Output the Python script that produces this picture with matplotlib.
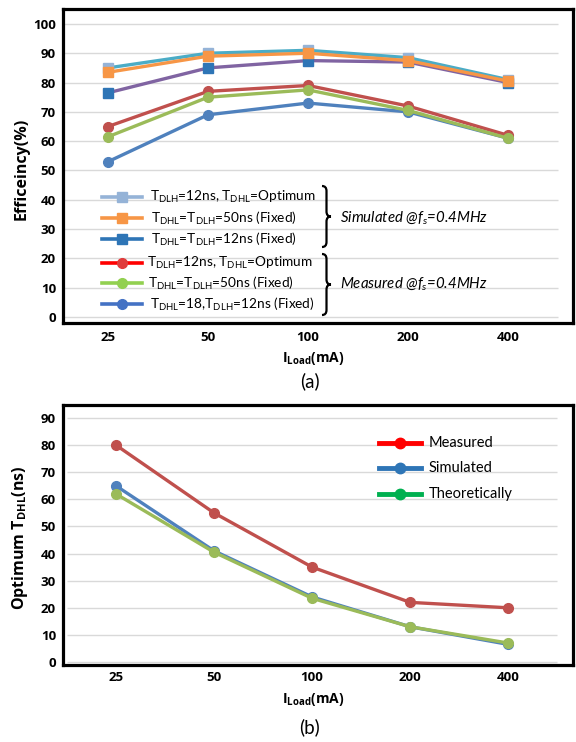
import matplotlib
matplotlib.use("Agg")
import matplotlib.pyplot as plt
from matplotlib.path import Path
from matplotlib.patches import PathPatch

plt.rcParams['font.family'] = ['Lato', 'DejaVu Sans']
plt.rcParams['mathtext.fontset'] = 'custom'
plt.rcParams['mathtext.rm'] = 'Lato'
plt.rcParams['mathtext.it'] = 'Lato:italic'
plt.rcParams['mathtext.bf'] = 'Open Sans:bold'

BOLD = ['Open Sans', 'DejaVu Sans']

# ---------------- data ----------------
loads = ["25", "50", "100", "200", "400"]

# panel (a) efficiency (%)
sim_opt = [85, 90, 91, 88.5, 81]          # TDLH=12ns, TDHL=Optimum (simulated)
sim_50 = [83.5, 89, 90, 87.5, 80.5]       # TDHL=TDLH=50ns (simulated)
sim_12 = [76.5, 85, 87.5, 87, 80]         # TDHL=TDLH=12ns (simulated)
meas_opt = [65, 77, 79, 72, 62]           # TDLH=12ns, TDHL=Optimum (measured)
meas_50 = [61.5, 75, 77.5, 70.5, 61]      # TDHL=TDLH=50ns (measured)
meas_18 = [53, 69, 73, 70, 61]            # TDHL=18, TDLH=12ns (measured)

# panel (b) optimum TDHL (ns)
opt_measured = [80, 55, 35, 22, 20]
opt_simulated = [65, 41, 24, 13, 6.5]
opt_theory = [62, 40.5, 23.5, 13, 7]

W, H = 576, 742
fig = plt.figure(figsize=(W / 100, H / 100), dpi=100)


def px_axes(l, t, r, b):
    return fig.add_axes([l / W, 1 - b / H, (r - l) / W, (b - t) / H])


def style_axes(ax, yticks, xpad):
    for s in ax.spines.values():
        s.set_linewidth(2.3)
        s.set_color('black')
    ax.set_yticks(yticks)
    ax.set_xticks(range(len(loads)))
    ax.set_xticklabels(loads)
    ax.tick_params(length=0, labelsize=9.5)
    ax.tick_params(axis='y', pad=5)
    ax.tick_params(axis='x', pad=xpad)
    for lab in ax.get_xticklabels() + ax.get_yticklabels():
        lab.set_fontweight('bold')
        lab.set_family(BOLD)
    ax.hlines(yticks, -0.5, 4.5, color='#D9D9D9', lw=1.0, zorder=0)


x = list(range(len(loads)))

# ---------------- panel (a) ----------------
axa = px_axes(63, 9, 573, 323)
axa.set_xlim(-0.45, 4.65)
axa.set_ylim(-2.05, 105.1)
style_axes(axa, list(range(0, 101, 10)), 6)

lw = 2.4
axa.plot(x, meas_18, color='#4F81BD', lw=lw, marker='o', ms=7, mfc='#4F81BD', mec='#4F81BD', zorder=3)
axa.plot(x, meas_opt, color='#C0504D', lw=lw, marker='o', ms=7, mfc='#C0504D', mec='#C0504D', zorder=3)
axa.plot(x, meas_50, color='#9BBB59', lw=lw, marker='o', ms=7, mfc='#9BBB59', mec='#9BBB59', zorder=3)
axa.plot(x, sim_12, color='#8064A2', lw=lw, marker='s', ms=7.5, mfc='#2E75B6', mec='#2E75B6', zorder=3)
axa.plot(x, sim_opt, color='#4BACC6', lw=lw, marker='s', ms=7.5, mfc='#95B3D7', mec='#95B3D7', zorder=3)
axa.plot(x, sim_50, color='#F79646', lw=lw, marker='s', ms=7.5, mfc='#F79646', mec='#F79646', zorder=3)

axa.set_ylabel('Efficeincy(%)', fontsize=11.5, fontweight='bold', family=BOLD)
axa.yaxis.set_label_coords(-0.065, 0.49)
axa.set_xlabel(r'$\mathbf{I_{Load}}$(mA)', fontsize=10, fontweight='bold', family=BOLD)
axa.xaxis.set_label_coords(0.49, -0.085)

# ---------------- panel (b) ----------------
axb = px_axes(63, 405, 573, 665)
axb.set_xlim(-0.54, 4.66)
axb.set_ylim(-1.1, 94.8)
style_axes(axb, list(range(0, 91, 10)), 4)

axb.plot(x, opt_measured, color='#C0504D', lw=lw, marker='o', ms=7, mfc='#C0504D', mec='#C0504D', zorder=3)
axb.plot(x, opt_simulated, color='#4F81BD', lw=lw, marker='o', ms=7, mfc='#4F81BD', mec='#4F81BD', zorder=3)
axb.plot(x, opt_theory, color='#9BBB59', lw=lw, marker='o', ms=7, mfc='#9BBB59', mec='#9BBB59', zorder=3)

axb.set_ylabel(r'Optimum $\mathbf{T_{DHL}}$(ns)', fontsize=11.5, fontweight='bold', family=BOLD)
axb.yaxis.set_label_coords(-0.065, 0.49)
axb.set_xlabel(r'$\mathbf{I_{Load}}$(mA)', fontsize=10, fontweight='bold', family=BOLD)
axb.xaxis.set_label_coords(0.49, -0.1)

# ---------------- overlay for legends / annotations ----------------
ov = fig.add_axes([0, 0, 1, 1], zorder=10)
ov.set_xlim(0, W)
ov.set_ylim(H, 0)
ov.axis('off')
ov.patch.set_alpha(0)

leg_a = [
    (197, '#95B3D7', '#95B3D7', 's', r'$\mathregular{T_{DLH}}$=12ns, $\mathregular{T_{DHL}}$=Optimum', 150),
    (218, '#F79646', '#F79646', 's', r'$\mathregular{T_{DHL}}$=$\mathregular{T_{DLH}}$=50ns (Fixed)', 151),
    (239, '#2E75B6', '#2E75B6', 's', r'$\mathregular{T_{DHL}}$=$\mathregular{T_{DLH}}$=12ns (Fixed)', 151),
    (263, '#FF0000', '#E03C3C', 'o', r'$\mathregular{T_{DLH}}$=12ns, $\mathregular{T_{DHL}}$=Optimum', 147),
    (283, '#92D050', '#92D050', 'o', r'$\mathregular{T_{DHL}}$=$\mathregular{T_{DLH}}$=50ns (Fixed)', 148),
    (304, '#4472C4', '#4472C4', 'o', r'$\mathregular{T_{DHL}}$=18,$\mathregular{T_{DLH}}$=12ns (Fixed)', 150),
]
for yy, lc, mc, mk, txt, tx in leg_a:
    ov.plot([102, 142], [yy, yy], color=lc, lw=2.6)
    ov.plot([122], [yy], marker=mk, ms=7.5 if mk == 's' else 7, color=mc)
    ov.text(tx, yy, txt, fontsize=9.8, va='center', ha='left')


def brace(x0, y0, y1, w=4.5):
    ym = (y0 + y1) / 2
    r = 5
    verts = [(x0, y0), (x0 + w, y0), (x0 + w, y0 + r),
             (x0 + w, ym - r),
             (x0 + w, ym), (x0 + 2 * w, ym), (x0 + 2 * w, ym),
             (x0 + w, ym), (x0 + w, ym + r),
             (x0 + w, y1 - r),
             (x0 + w, y1), (x0, y1)]
    codes = [Path.MOVETO, Path.CURVE3, Path.CURVE3,
             Path.LINETO,
             Path.CURVE3, Path.CURVE3, Path.MOVETO,
             Path.CURVE3, Path.CURVE3,
             Path.LINETO,
             Path.CURVE3, Path.CURVE3]
    ov.add_patch(PathPatch(Path(verts, codes), fill=False, lw=1.6, color='black'))


brace(322, 186, 247)
brace(322, 254, 315)
ov.text(340, 218, r'Simulated @$\mathit{f_s}$=0.4MHz', fontsize=10.8, style='italic', va='center')
ov.text(340, 284, r'Measured @$\mathit{f_s}$=0.4MHz', fontsize=10.8, style='italic', va='center')

leg_b = [
    (443, '#FF0000', 'Measured'),
    (468, '#2E75B6', 'Simulated'),
    (494, '#00B050', 'Theoretically'),
]
for yy, c, txt in leg_b:
    ov.plot([379, 421], [yy, yy], color=c, lw=3.5)
    ov.plot([400], [yy], marker='o', ms=7.5, color=c)
    ov.text(429, yy, txt, fontsize=10.5, va='center', ha='left')

ov.text(310, 381, '(a)', fontsize=13.5, ha='center', va='center')
ov.text(310, 727, '(b)', fontsize=13.5, ha='center', va='center')

fig.savefig('out.png', dpi=100)
